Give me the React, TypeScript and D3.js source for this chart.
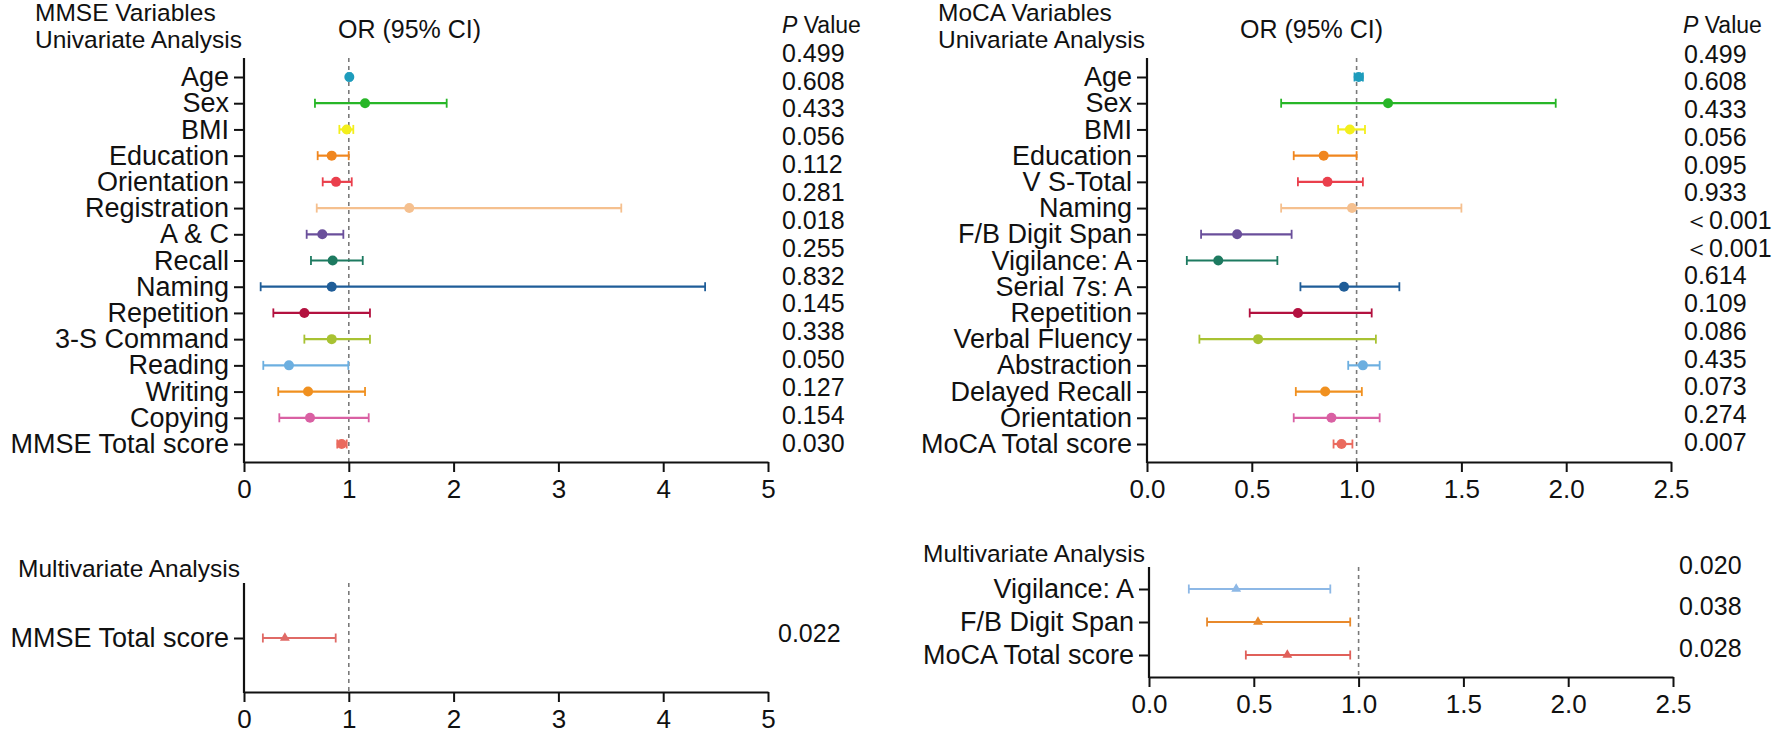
import * as d3 from "d3";
import { useEffect, useRef } from "react";

// MMSE univariate
const mmseLabels = ["Age", "Sex", "BMI", "Education", "Orientation", "Registration", "A & C", "Recall", "Naming", "Repetition", "3-S Command", "Reading", "Writing", "Copying", "MMSE Total score"];
const mmseOR = [1.005, 1.155, 0.98, 0.837, 0.878, 1.577, 0.747, 0.846, 0.837, 0.576, 0.837, 0.429, 0.611, 0.63, 0.932];
const mmseLow = [0.99, 0.677, 0.91, 0.703, 0.751, 0.694, 0.598, 0.639, 0.159, 0.28, 0.576, 0.184, 0.327, 0.337, 0.89];
const mmseHigh = [1.02, 1.934, 1.043, 0.999, 1.028, 3.6, 0.948, 1.133, 4.4, 1.202, 1.202, 0.995, 1.155, 1.19, 0.98];
const mmseP = ["0.499", "0.608", "0.433", "0.056", "0.112", "0.281", "0.018", "0.255", "0.832", "0.145", "0.338", "0.050", "0.127", "0.154", "0.030"];

// MoCA univariate
const mocaLabels = ["Age", "Sex", "BMI", "Education", "V S-Total", "Naming", "F/B Digit Span", "Vigilance: A", "Serial 7s: A", "Repetition", "Verbal Fluency", "Abstraction", "Delayed Recall", "Orientation", "MoCA Total score"];
const mocaOR = [1.01, 1.15, 0.968, 0.843, 0.861, 0.978, 0.43, 0.34, 0.94, 0.72, 0.53, 1.03, 0.85, 0.88, 0.928];
const mocaLow = [0.99, 0.64, 0.912, 0.7, 0.72, 0.64, 0.258, 0.19, 0.732, 0.49, 0.25, 0.96, 0.71, 0.7, 0.89];
const mocaHigh = [1.03, 1.95, 1.04, 1.0, 1.03, 1.5, 0.69, 0.622, 1.204, 1.072, 1.092, 1.11, 1.025, 1.11, 0.98];
const mocaP = ["0.499", "0.608", "0.433", "0.056", "0.095", "0.933", "＜0.001", "＜0.001", "0.614", "0.109", "0.086", "0.435", "0.073", "0.274", "0.007"];

// multivariate
const mmseMultiLabels = ["MMSE Total score"];
const mmseMultiOR = [0.39];
const mmseMultiLow = [0.18];
const mmseMultiHigh = [0.875];
const mmseMultiP = ["0.022"];

const mocaMultiLabels = ["Vigilance: A", "F/B Digit Span", "MoCA Total score"];
const mocaMultiOR = [0.416, 0.52, 0.66];
const mocaMultiLow = [0.19, 0.277, 0.462];
const mocaMultiHigh = [0.865, 0.96, 0.96];
const mocaMultiP = ["0.020", "0.038", "0.028"];

const mmseTicks = [0, 1, 2, 3, 4, 5];
const mocaTicks = [0, 0.5, 1, 1.5, 2, 2.5];

const palette = ["#1e9cbc", "#27b627", "#f3ef1c", "#f0861e", "#ea3f4c", "#f5c08f", "#6a4f9b", "#1d7a60", "#1f5d98", "#b3113f", "#a8c232", "#6cafe0", "#f0901f", "#d960a3", "#ea6a5e"];
const mmseMultiColors = ["#e06a66"];
const mocaMultiColors = ["#8db8e6", "#e8892b", "#e0605a"];

const FONT = "'Liberation Sans', Arial, Helvetica, sans-serif";

type Panel = {
  labels: string[];
  or: number[];
  low: number[];
  high: number[];
  p: string[];
  colors: string[];
  ticks: number[];
  fmt: (n: number) => string;
  xMax: number;
  x0: number;
  x1: number;
  yTop: number;
  yBottom: number;
  rowFirst: number;
  rowLast: number;
  pX: number;
  pFirst: number;
  pLast: number;
  triangle: boolean;
};

export default function App() {
  const svgRef = useRef<SVGSVGElement>(null);

  useEffect(() => {
    const svg = d3.select(svgRef.current);
    svg.selectAll("*").remove();

    svg.append("rect").attr("width", 1772).attr("height", 733).attr("fill", "#fff");

    // titles
    addText(svg, 35, 21, "MMSE Variables", 24.5);
    addText(svg, 35, 48, "Univariate Analysis", 24.5);
    addText(svg, 338, 38, "OR (95% CI)", 25);
    addPHeader(svg, 782, 33);

    addText(svg, 938, 21, "MoCA Variables", 24.5);
    addText(svg, 938, 48, "Univariate Analysis", 24.5);
    addText(svg, 1240, 38, "OR (95% CI)", 25);
    addPHeader(svg, 1683, 33);

    addText(svg, 18, 577, "Multivariate Analysis", 24.5);
    addText(svg, 923, 562, "Multivariate Analysis", 24.5);

    drawPanel(svg, {
      labels: mmseLabels, or: mmseOR, low: mmseLow, high: mmseHigh, p: mmseP, colors: palette,
      ticks: mmseTicks, fmt: d3.format("d"), xMax: 5, x0: 244, x1: 768,
      yTop: 58, yBottom: 462, rowFirst: 77, rowLast: 444, pX: 782, pFirst: 53, pLast: 443, triangle: false,
    });

    drawPanel(svg, {
      labels: mocaLabels, or: mocaOR, low: mocaLow, high: mocaHigh, p: mocaP, colors: palette,
      ticks: mocaTicks, fmt: d3.format(".1f"), xMax: 2.5, x0: 1147, x1: 1671,
      yTop: 58, yBottom: 462, rowFirst: 77, rowLast: 444, pX: 1684, pFirst: 54, pLast: 442, triangle: false,
    });

    drawPanel(svg, {
      labels: mmseMultiLabels, or: mmseMultiOR, low: mmseMultiLow, high: mmseMultiHigh, p: mmseMultiP, colors: mmseMultiColors,
      ticks: mmseTicks, fmt: d3.format("d"), xMax: 5, x0: 244, x1: 768,
      yTop: 583, yBottom: 692, rowFirst: 638, rowLast: 638, pX: 778, pFirst: 633, pLast: 633, triangle: true,
    });

    drawPanel(svg, {
      labels: mocaMultiLabels, or: mocaMultiOR, low: mocaMultiLow, high: mocaMultiHigh, p: mocaMultiP, colors: mocaMultiColors,
      ticks: mocaTicks, fmt: d3.format(".1f"), xMax: 2.5, x0: 1149, x1: 1673,
      yTop: 567, yBottom: 677, rowFirst: 589, rowLast: 655, pX: 1679, pFirst: 565, pLast: 648, triangle: true,
    });
  }, []);

  return (
    <svg
      ref={svgRef}
      width={1772}
      height={733}
      style={{ position: "absolute", left: 0, top: 0, display: "block" }}
    />
  );
}

function addText(svg: any, x: number, y: number, s: string, size: number) {
  svg.append("text")
    .attr("x", x)
    .attr("y", y)
    .attr("font-family", FONT)
    .attr("font-size", size)
    .attr("fill", "#111")
    .text(s);
}

function addPHeader(svg: any, x: number, y: number) {
  const t = svg.append("text")
    .attr("x", x)
    .attr("y", y)
    .attr("font-family", FONT)
    .attr("font-size", 23)
    .attr("fill", "#111");
  t.append("tspan").attr("font-style", "italic").text("P");
  t.append("tspan").text(" Value");
}

function drawPanel(svg: any, o: Panel) {
  const x = d3.scaleLinear().domain([0, o.xMax]).range([o.x0, o.x1]);
  const y = d3.scalePoint<string>().domain(o.labels).range([o.rowFirst, o.rowLast]);
  const pIdx = o.p.map((_, i) => String(i));
  const yp = d3.scalePoint<string>().domain(pIdx).range([o.pFirst, o.pLast]);

  const g = svg.append("g");

  // reference line at OR = 1
  g.append("line")
    .attr("x1", x(1)).attr("x2", x(1))
    .attr("y1", o.yTop).attr("y2", o.yBottom)
    .attr("stroke", "#7a7a7a")
    .attr("stroke-width", 1.6)
    .attr("stroke-dasharray", "4,4");

  // y axis
  const yAxis = g.append("g")
    .attr("transform", `translate(${o.x0},0)`)
    .call(d3.axisLeft(y).tickSize(10).tickPadding(5));
  yAxis.select(".domain").remove();
  yAxis.selectAll("line").attr("stroke", "#111").attr("stroke-width", 2);
  yAxis.selectAll("text")
    .attr("font-family", FONT)
    .attr("font-size", 27)
    .attr("fill", "#111");

  g.append("line")
    .attr("x1", o.x0).attr("x2", o.x0)
    .attr("y1", o.yTop).attr("y2", o.yBottom + 1)
    .attr("stroke", "#111")
    .attr("stroke-width", 2.2);

  // x axis
  const xAxis = g.append("g")
    .attr("transform", `translate(0,${o.yBottom})`)
    .call(d3.axisBottom(x).tickValues(o.ticks).tickFormat(o.fmt as any).tickSize(10).tickSizeOuter(0).tickPadding(8));
  xAxis.select(".domain").attr("stroke", "#111").attr("stroke-width", 2.2);
  xAxis.selectAll("line").attr("stroke", "#111").attr("stroke-width", 2);
  xAxis.selectAll("text")
    .attr("font-family", FONT)
    .attr("font-size", 26)
    .attr("fill", "#111");

  // CI lines
  const rows = o.labels.map((label, i) => ({
    label, or: o.or[i], low: o.low[i], high: o.high[i], color: o.colors[i % o.colors.length],
  }));

  const marks = g.append("g");
  marks.selectAll("line.ci")
    .data(rows)
    .join("line")
    .attr("class", "ci")
    .attr("x1", (d: any) => x(d.low))
    .attr("x2", (d: any) => x(d.high))
    .attr("y1", (d: any) => y(d.label))
    .attr("y2", (d: any) => y(d.label))
    .attr("stroke", (d: any) => d.color)
    .attr("stroke-width", 2.2);

  ["low", "high"].forEach(k => {
    marks.selectAll(`line.cap-${k}`)
      .data(rows)
      .join("line")
      .attr("class", `cap-${k}`)
      .attr("x1", (d: any) => x(d[k]))
      .attr("x2", (d: any) => x(d[k]))
      .attr("y1", (d: any) => (y(d.label) as number) - 4.5)
      .attr("y2", (d: any) => (y(d.label) as number) + 4.5)
      .attr("stroke", (d: any) => d.color)
      .attr("stroke-width", 1.8);
  });

  if (o.triangle) {
    marks.selectAll("path.pt")
      .data(rows)
      .join("path")
      .attr("class", "pt")
      .attr("d", d3.symbol(d3.symbolTriangle, 42)())
      .attr("transform", (d: any) => `translate(${x(d.or)},${y(d.label)})`)
      .attr("fill", (d: any) => d.color);
  } else {
    marks.selectAll("circle.pt")
      .data(rows)
      .join("circle")
      .attr("class", "pt")
      .attr("cx", (d: any) => x(d.or))
      .attr("cy", (d: any) => y(d.label))
      .attr("r", 5)
      .attr("fill", (d: any) => d.color);
  }

  // P values
  g.append("g")
    .selectAll("text")
    .data(o.p)
    .join("text")
    .attr("x", o.pX)
    .attr("y", (_: any, i: number) => yp(String(i)))
    .attr("dy", "0.35em")
    .attr("font-family", FONT)
    .attr("font-size", 25)
    .attr("fill", "#111")
    .text((d: string) => d);
}
